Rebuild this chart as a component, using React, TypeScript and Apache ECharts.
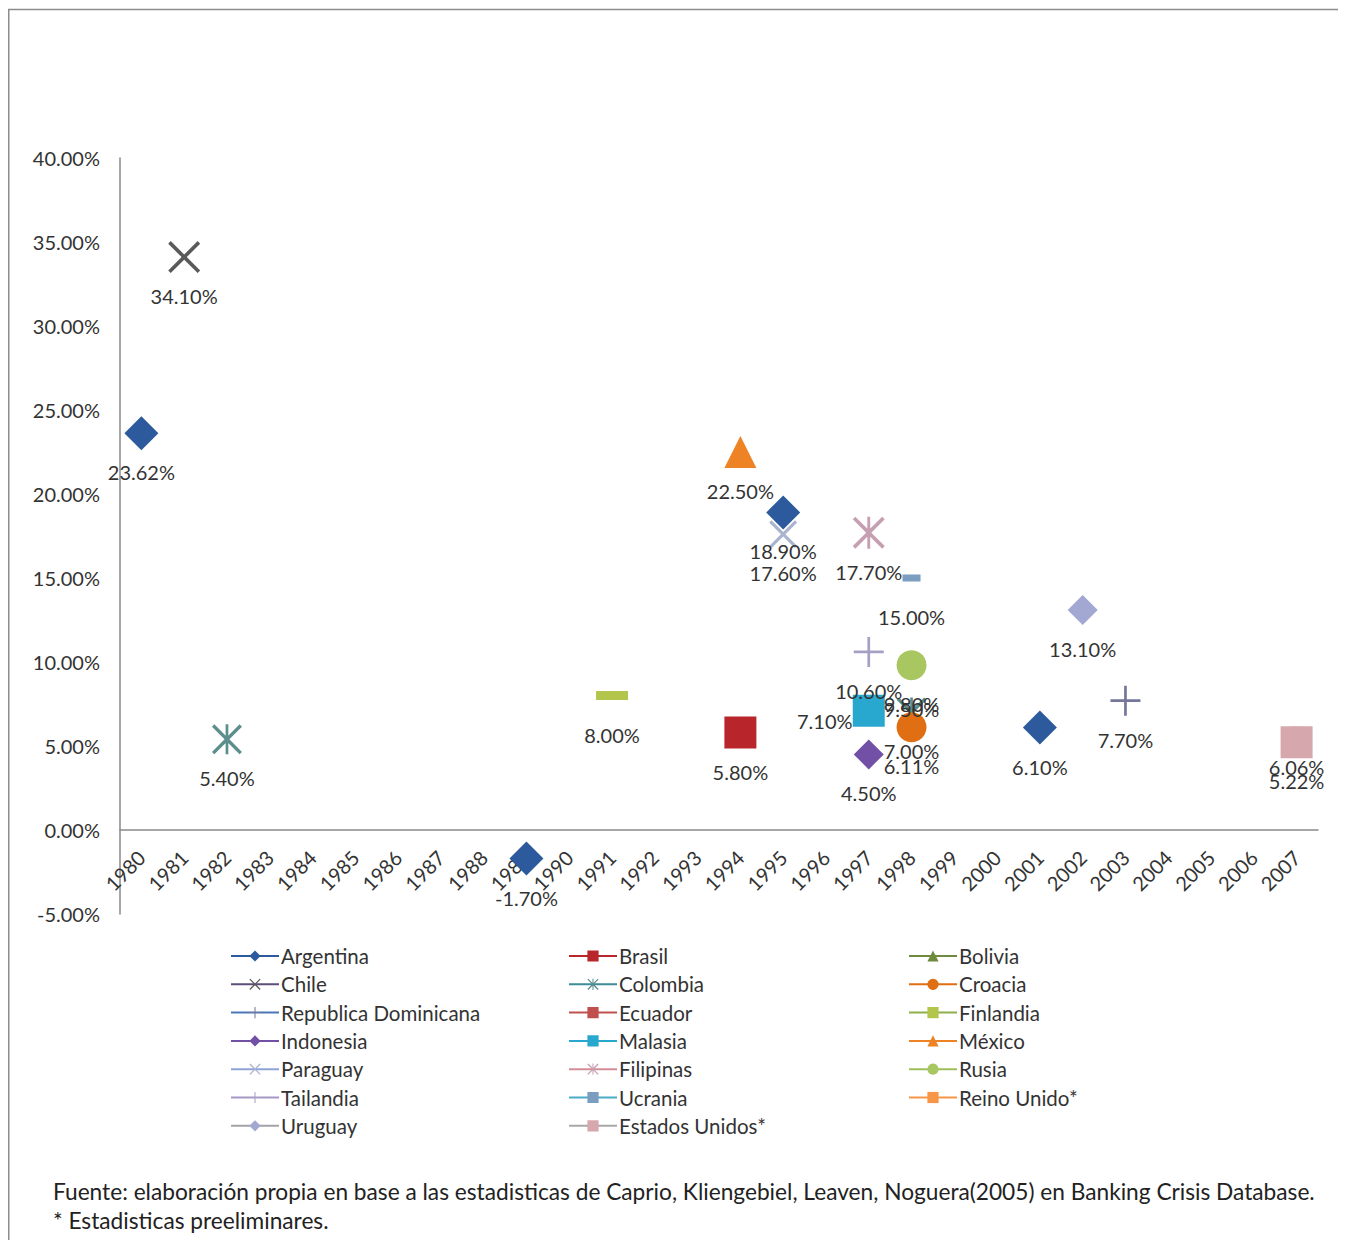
import React, { useEffect, useRef } from "react";
import * as echarts from "echarts";

const years = [
  "1980", "1981", "1982", "1983", "1984", "1985", "1986", "1987", "1988", "1989",
  "1990", "1991", "1992", "1993", "1994", "1995", "1996", "1997", "1998", "1999",
  "2000", "2001", "2002", "2003", "2004", "2005", "2006", "2007",
];
const yTicks = { min: -5, max: 40, interval: 5 };

// sparse points: [year, value in %]
const argentina: [string, number][] = [["1980", 23.62], ["1989", -1.7], ["1995", 18.9], ["2001", 6.1]];
const brasil: [string, number][] = [["1994", 5.8]];
const bolivia: [string, number][] = [];
const chile: [string, number][] = [["1981", 34.1]];
const colombia: [string, number][] = [["1982", 5.4], ["1998", 7.0]];
const croacia: [string, number][] = [["1998", 6.11]];
const repDominicana: [string, number][] = [["2003", 7.7]];
const ecuador: [string, number][] = [["1998", 9.5]];
const finlandia: [string, number][] = [["1991", 8.0]];
const indonesia: [string, number][] = [["1997", 4.5]];
const malasia: [string, number][] = [["1997", 7.1]];
const mexico: [string, number][] = [["1994", 22.5]];
const paraguay: [string, number][] = [["1995", 17.6]];
const filipinas: [string, number][] = [["1997", 17.7]];
const rusia: [string, number][] = [["1998", 9.8]];
const tailandia: [string, number][] = [["1997", 10.6]];
const ucrania: [string, number][] = [["1998", 15.0]];
const reinoUnido: [string, number][] = [["2007", 6.06]];
const uruguay: [string, number][] = [["2002", 13.1]];
const estadosUnidos: [string, number][] = [["2007", 5.22]];

const legendCol1 = ["Argentina", "Chile", "Republica Dominicana", "Indonesia", "Paraguay", "Tailandia", "Uruguay"];
const legendCol2 = ["Brasil", "Colombia", "Ecuador", "Malasia", "Filipinas", "Ucrania", "Estados Unidos*"];
const legendCol3 = ["Bolivia", "Croacia", "Finlandia", "México", "Rusia", "Reino Unido*"];

const footer1 = "Fuente: elaboración propia en base a las estadisticas de Caprio, Kliengebiel, Leaven, Noguera(2005) en Banking Crisis Database.";
const footer2 = "* Estadisticas preeliminares.";

const X_PATH = "path://M0,0.8L0.8,0L5,4.2L9.2,0L10,0.8L5.8,5L10,9.2L9.2,10L5,5.8L0.8,10L0,9.2L4.2,5Z";
const ASTER_PATH = "path://M0,0.8L0.8,0L5,4.2L9.2,0L10,0.8L5.8,5L10,9.2L9.2,10L5,5.8L0.8,10L0,9.2L4.2,5Z M4.55,0L5.45,0L5.45,10L4.55,10Z";
const PLUS_PATH = "path://M4.55,0L5.45,0L5.45,4.55L10,4.55L10,5.45L5.45,5.45L5.45,10L4.55,10L4.55,5.45L0,5.45L0,4.55L4.55,4.55Z";

const FONT = "Lato";
const TEXT_SIZE = 20;

type Style = { color: string; symbol: string; size: number | number[]; marker?: string; z?: number; labelOffset?: number[] };

const seriesDefs: { name: string; points: [string, number][]; style: Style }[] = [
  { name: "Argentina", points: argentina, style: { color: "#2C5A9C", symbol: "diamond", size: 34, z: 5 } },
  { name: "Brasil", points: brasil, style: { color: "#B8262B", symbol: "rect", size: 32 } },
  { name: "Bolivia", points: bolivia, style: { color: "#6E8B3D", symbol: "triangle", size: 28 } },
  { name: "Chile", points: chile, style: { color: "#5E4E78", symbol: X_PATH, size: 32, marker: "#5A5A5A" } },
  { name: "Colombia", points: colombia, style: { color: "#3E8C98", symbol: ASTER_PATH, size: 30, marker: "#5B8E8C" } },
  { name: "Croacia", points: croacia, style: { color: "#DF6F12", symbol: "circle", size: 30 } },
  { name: "Republica Dominicana", points: repDominicana, style: { color: "#4A76B5", symbol: PLUS_PATH, size: 30, marker: "#74779A" } },
  { name: "Ecuador", points: ecuador, style: { color: "#C0504D", symbol: "rect", size: [22, 7] } },
  { name: "Finlandia", points: finlandia, style: { color: "#8FAF48", symbol: "rect", size: [32, 9], marker: "#B3C64B" } },
  { name: "Indonesia", points: indonesia, style: { color: "#7150A6", symbol: "diamond", size: 30 } },
  { name: "Malasia", points: malasia, style: { color: "#29A8CF", symbol: "rect", size: 32, labelOffset: [-44, 10] } },
  { name: "México", points: mexico, style: { color: "#EE8325", symbol: "triangle", size: 32 } },
  { name: "Paraguay", points: paraguay, style: { color: "#8FA3D6", symbol: X_PATH, size: 28, marker: "#A9B4CF" } },
  { name: "Filipinas", points: filipinas, style: { color: "#D58C98", symbol: ASTER_PATH, size: 32, marker: "#C6A0B2" } },
  { name: "Rusia", points: rusia, style: { color: "#9DC05A", symbol: "circle", size: 30, marker: "#A8C760" } },
  { name: "Tailandia", points: tailandia, style: { color: "#A597C6", symbol: PLUS_PATH, size: 30, marker: "#A6A1C4" } },
  { name: "Ucrania", points: ucrania, style: { color: "#4BACC6", symbol: "rect", size: [18, 7], marker: "#7B9DC0" } },
  { name: "Reino Unido*", points: reinoUnido, style: { color: "#F79646", symbol: "rect", size: [12, 3] } },
  { name: "Uruguay", points: uruguay, style: { color: "#A3A3A8", symbol: "diamond", size: 30, marker: "#A3A8D2" } },
  { name: "Estados Unidos*", points: estadosUnidos, style: { color: "#A8A8A8", symbol: "rect", size: 32, marker: "#D6A8AE" } },
];

function buildSeries() {
  return seriesDefs.map((d) => {
    const lookup = new Map(d.points);
    const data = years.map((y) => (lookup.has(y) ? lookup.get(y)! : null));
    const s = d.style;
    return {
      name: d.name,
      type: "line",
      data,
      z: s.z ?? 2,
      showSymbol: true,
      showAllSymbol: true,
      connectNulls: false,
      symbol: s.symbol,
      symbolSize: s.size,
      lineStyle: { color: s.color, width: 3 },
      itemStyle: { color: s.marker ?? s.color, borderColor: s.marker ?? s.color, borderWidth: 0 },
      label: {
        show: true,
        position: "inside",
        offset: s.labelOffset ?? [0, 39],
        formatter: (p: any) => (p.value == null ? "" : Number(p.value).toFixed(2) + "%"),
        color: "#333333",
        fontSize: TEXT_SIZE,
        fontFamily: FONT,
      },
      emphasis: { disabled: true },
    };
  });
}

function legendAt(data: string[], left: number) {
  return {
    orient: "vertical",
    left,
    top: 937,
    data,
    itemWidth: 48,
    itemHeight: 14,
    itemGap: 6.3,
    padding: 0,
    textStyle: { fontSize: 20.5, fontFamily: FONT, color: "#333333", lineHeight: 22, padding: [0, 0, 0, -3] },
    selectedMode: false,
  };
}

export default function App() {
  const ref = useRef<HTMLDivElement>(null);
  useEffect(() => {
    if (!ref.current) return;
    const chart = echarts.init(ref.current, undefined, { renderer: "svg" });
    chart.setOption({
      animation: false,
      backgroundColor: "#ffffff",
      grid: { left: 112, top: 150, width: 1198, height: 756, containLabel: false },
      xAxis: {
        type: "category",
        data: years,
        boundaryGap: true,
        offset: -84,
        axisLine: { show: true, onZero: false, lineStyle: { color: "#8a8a8a", width: 1.5 } },
        axisTick: { show: false },
        axisLabel: { interval: 0, rotate: 45, margin: 24, fontSize: TEXT_SIZE, fontFamily: FONT, color: "#333333" },
        splitLine: { show: false },
      },
      yAxis: {
        type: "value",
        min: yTicks.min,
        max: yTicks.max,
        interval: yTicks.interval,
        axisLine: { show: true, lineStyle: { color: "#8a8a8a", width: 1.5 } },
        axisTick: { show: false },
        splitLine: { show: false },
        axisLabel: {
          margin: 20,
          fontSize: TEXT_SIZE,
          fontFamily: FONT,
          color: "#333333",
          formatter: (v: number) => v.toFixed(2) + "%",
        },
      },
      legend: [legendAt(legendCol1, 222), legendAt(legendCol2, 560), legendAt(legendCol3, 900)],
      graphic: [
        {
          type: "rect",
          silent: true,
          shape: { x: 0.75, y: 1.5, width: 1332, height: 1300 },
          style: { fill: "none", stroke: "#8c8c8c", lineWidth: 1.5 },
          z: 0,
        },
        {
          type: "text",
          left: 45,
          top: 1172,
          style: { text: footer1, fontSize: 22.7, fontFamily: FONT, fill: "#222222" },
        },
        {
          type: "text",
          left: 45,
          top: 1201,
          style: { text: footer2, fontSize: 22.7, fontFamily: FONT, fill: "#222222" },
        },
      ],
      series: buildSeries(),
    });
    return () => chart.dispose();
  }, []);
  return <div ref={ref} style={{ width: 1338, height: 1232 }} />;
}
